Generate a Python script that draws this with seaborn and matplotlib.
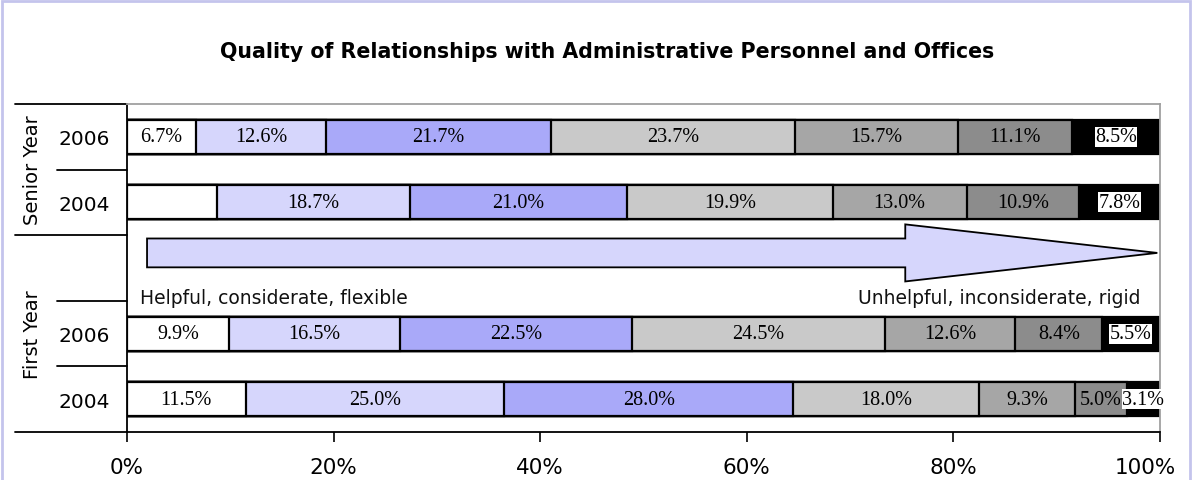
import matplotlib.pyplot as plt
import matplotlib.transforms as mtransforms
from matplotlib.patches import FancyArrow, Rectangle
import numpy as np
import pandas as pd
import seaborn as sns

# rows, top to bottom; "gap" is the empty slot holding the arrow
rows = ["Senior 2006", "Senior 2004", "gap", "First 2006", "First 2004"]
year_labels = ["2006", "2004", "", "2006", "2004"]
bar_rows = ["Senior 2006", "Senior 2004", "First 2006", "First 2004"]

senior_2006 = [6.7, 12.6, 21.7, 23.7, 15.7, 11.1, 8.5]
senior_2004 = [8.7, 18.7, 21.0, 19.9, 13.0, 10.9, 7.8]
first_2006 = [9.9, 16.5, 22.5, 24.5, 12.6, 8.4, 5.5]
first_2004 = [11.5, 25.0, 28.0, 18.0, 9.3, 5.0, 3.1]
# the first Senior 2004 segment carries no label in the original
show_label = [[True] * 7, [False] + [True] * 6, [True] * 7, [True] * 7]

colors = ["#ffffff", "#d6d6fc", "#a9a9f9", "#c9c9c9", "#a6a6a6", "#8c8c8c", "#000000"]

values = np.array([senior_2006, senior_2004, first_2006, first_2004])
cum = values.cumsum(axis=1)

sns.set_theme(style="white")
plt.rcParams["font.family"] = ["DejaVu Sans"]
plt.rcParams["text.color"] = "black"
plt.rcParams["xtick.color"] = "black"
plt.rcParams["ytick.color"] = "black"

fig = plt.figure(figsize=(11.95, 4.81), dpi=100)
ax = fig.add_axes([127 / 1195, 1 - 433 / 481, 1033 / 1195, 328 / 481])

# stacked bars: draw cumulative totals from the largest down
for k in range(6, -1, -1):
    df = pd.DataFrame({"row": bar_rows, "cum": cum[:, k]})
    sns.barplot(data=df, y="row", x="cum", order=rows, orient="h",
                color=colors[k], saturation=1, width=0.52,
                edgecolor="black", linewidth=1.6, ax=ax)

for i, r in enumerate(bar_rows):
    yi = rows.index(r)
    left = cum[i] - values[i]
    for k in range(7):
        if not show_label[i][k]:
            continue
        xc = left[k] + values[i][k] / 2
        kw = {}
        if k == 6:
            kw["bbox"] = dict(facecolor="white", edgecolor="none", pad=0.3)
        ax.text(xc, yi, f"{values[i][k]:.1f}%", ha="center", va="center",
                fontsize=14.5, family="Liberation Serif", color="black", **kw)

# arrow in the empty row
ax.add_patch(FancyArrow(1.94, 1.77, 97.8, 0, width=0.44, head_width=0.87,
                        head_length=24.4, length_includes_head=True,
                        facecolor="#d6d6fc", edgecolor="black", linewidth=1.3))
ax.text(1.26, 2.45, "Helpful, considerate, flexible", fontsize=13.5,
        ha="left", va="center", color="#111111")
ax.text(98.1, 2.45, "Unhelpful, inconsiderate, rigid", fontsize=13.5,
        ha="right", va="center", color="#111111")

ax.set_xlim(0, 100)
ax.set_ylim(4.5, -0.5)
ax.set_xlabel("")
ax.set_ylabel("")
ax.set_xticks(range(0, 101, 20))
ax.set_xticklabels([f"{v}%" for v in range(0, 101, 20)])
ax.set_yticks(range(len(rows)))
ax.set_yticklabels(year_labels)
ax.tick_params(axis="x", direction="out", length=7, width=1.2, color="black",
               labelsize=15.5, pad=11, bottom=True)
ax.tick_params(axis="y", length=0, labelsize=14.5, pad=12)

# the last label sits a little inside the frame
last = ax.get_xticklabels()[-1]
last.set_transform(last.get_transform() +
                   mtransforms.ScaledTranslation(-0.15, 0, fig.dpi_scale_trans))

for s in ["left", "bottom"]:
    ax.spines[s].set_color("black")
    ax.spines[s].set_linewidth(1.3)
for s in ["top", "right"]:
    ax.spines[s].set_color("#a0a0a0")
    ax.spines[s].set_linewidth(1.3)

# multi-level category axis lines and group labels
trans = mtransforms.blended_transform_factory(ax.transAxes, ax.transData)
full_x = -(127 - 15) / 1033
short_x = -(127 - 57) / 1033
for yb in [-0.5, 1.5, 4.5]:
    ax.plot([full_x, 0], [yb, yb], color="black", lw=1.3, transform=trans, clip_on=False)
for yb in [0.5, 2.5, 3.5]:
    ax.plot([short_x, 0], [yb, yb], color="black", lw=1.3, transform=trans, clip_on=False)
gx = -(127 - 32) / 1033
ax.text(gx, 0.5, "Senior Year", rotation=90, ha="center", va="center",
        fontsize=14, transform=trans)
ax.text(gx, 3.0, "First Year", rotation=90, ha="center", va="center",
        fontsize=14, transform=trans)

fig.text(607 / 1195, 1 - 52 / 481,
         "Quality of Relationships with Administrative Personnel and Offices",
         ha="center", va="center", fontsize=14.8, fontweight="bold", color="black")

fig.patches.append(Rectangle((0.002, -0.01), 0.994, 1.006, transform=fig.transFigure,
                             facecolor="none", edgecolor="#c4c4ec", linewidth=2))

fig.savefig("out.png", dpi=100)
